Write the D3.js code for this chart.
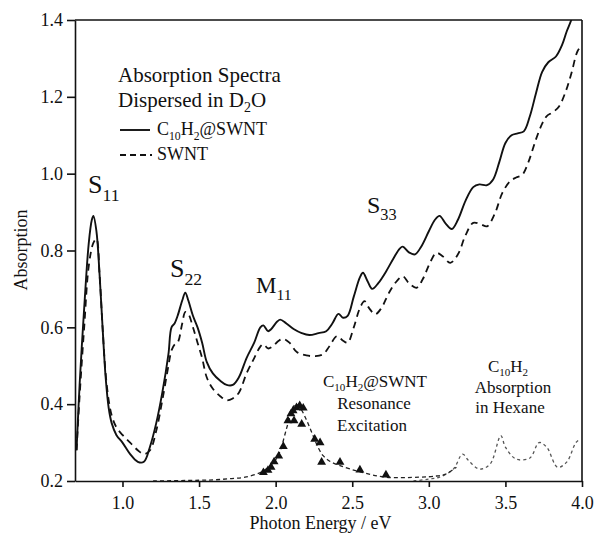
<!DOCTYPE html>
<html><head><meta charset="utf-8">
<script src="https://cdn.jsdelivr.net/npm/d3@7"></script>
<style>body{margin:0;background:#fff}svg{display:block}text{font-family:"Liberation Serif","Times New Roman",serif;fill:#111}</style>
</head><body><svg id="c" width="594" height="537"></svg>
<script>
// Absorption of C10H2@SWNT (solid) [energy eV, absorption]
const solidSeries = [[0.70,0.28],[0.72,0.45],[0.75,0.65],[0.78,0.82],[0.80,0.88],[0.81,0.89],[0.83,0.85],[0.85,0.74],[0.87,0.60],[0.89,0.47],[0.91,0.39],[0.93,0.35],[0.96,0.32],[1.00,0.30],[1.05,0.27],[1.10,0.25],[1.14,0.25],[1.18,0.29],[1.22,0.35],[1.26,0.43],[1.30,0.53],[1.32,0.60],[1.34,0.61],[1.36,0.63],[1.39,0.67],[1.41,0.69],[1.43,0.67],[1.46,0.63],[1.49,0.60],[1.52,0.56],[1.55,0.51],[1.59,0.48],[1.64,0.46],[1.68,0.45],[1.72,0.45],[1.76,0.47],[1.81,0.52],[1.86,0.56],[1.90,0.60],[1.92,0.605],[1.95,0.59],[1.97,0.595],[2.01,0.615],[2.03,0.62],[2.07,0.61],[2.12,0.595],[2.17,0.585],[2.22,0.58],[2.28,0.585],[2.33,0.59],[2.37,0.61],[2.41,0.635],[2.44,0.625],[2.47,0.63],[2.51,0.68],[2.55,0.73],[2.57,0.742],[2.60,0.72],[2.63,0.70],[2.67,0.715],[2.72,0.745],[2.77,0.78],[2.81,0.805],[2.83,0.81],[2.87,0.795],[2.91,0.79],[2.95,0.81],[3.00,0.85],[3.04,0.88],[3.07,0.89],[3.11,0.87],[3.15,0.856],[3.19,0.88],[3.24,0.93],[3.29,0.965],[3.33,0.972],[3.38,0.97],[3.42,0.985],[3.46,1.03],[3.50,1.08],[3.54,1.10],[3.58,1.105],[3.62,1.11],[3.66,1.15],[3.70,1.21],[3.74,1.265],[3.78,1.29],[3.83,1.305],[3.87,1.335],[3.90,1.37],[3.93,1.40],[3.96,1.44]];
// Absorption of SWNT (dashed)
const dashedSeries = [[0.70,0.28],[0.72,0.42],[0.75,0.60],[0.78,0.76],[0.81,0.82],[0.83,0.83],[0.85,0.74],[0.87,0.60],[0.89,0.48],[0.91,0.41],[0.93,0.37],[0.96,0.34],[1.00,0.32],[1.05,0.30],[1.10,0.28],[1.14,0.27],[1.18,0.28],[1.22,0.33],[1.26,0.41],[1.30,0.50],[1.32,0.54],[1.34,0.555],[1.36,0.56],[1.39,0.61],[1.41,0.64],[1.43,0.635],[1.46,0.60],[1.49,0.56],[1.52,0.52],[1.55,0.47],[1.59,0.44],[1.64,0.42],[1.68,0.41],[1.72,0.415],[1.76,0.43],[1.81,0.48],[1.86,0.52],[1.90,0.55],[1.92,0.556],[1.95,0.545],[1.98,0.55],[2.02,0.565],[2.05,0.57],[2.09,0.56],[2.14,0.535],[2.20,0.527],[2.26,0.525],[2.31,0.53],[2.35,0.55],[2.40,0.577],[2.44,0.565],[2.47,0.56],[2.51,0.60],[2.55,0.65],[2.58,0.668],[2.61,0.65],[2.65,0.634],[2.69,0.65],[2.74,0.69],[2.79,0.72],[2.83,0.733],[2.87,0.715],[2.92,0.703],[2.96,0.725],[3.01,0.77],[3.05,0.794],[3.09,0.785],[3.14,0.768],[3.19,0.79],[3.24,0.84],[3.29,0.872],[3.34,0.868],[3.38,0.863],[3.43,0.895],[3.48,0.95],[3.53,0.98],[3.57,0.99],[3.61,0.997],[3.65,1.03],[3.70,1.09],[3.74,1.13],[3.77,1.15],[3.81,1.16],[3.85,1.175],[3.89,1.21],[3.93,1.26],[3.97,1.318],[4.00,1.335]];
// Resonance excitation fit (dashed)
const fitSeries = [[1.20,0.200],[1.50,0.202],[1.60,0.203],[1.70,0.206],[1.80,0.21],[1.90,0.222],[1.95,0.235],[2.00,0.255],[2.03,0.279],[2.07,0.335],[2.10,0.375],[2.13,0.40],[2.16,0.39],[2.20,0.36],[2.24,0.322],[2.28,0.285],[2.31,0.266],[2.36,0.25],[2.42,0.24],[2.55,0.224],[2.72,0.21],[2.94,0.21],[3.05,0.213],[3.11,0.218],[3.18,0.236]];
// Resonance excitation data points (triangles)
const excitationPoints = [[1.92,0.222],[1.95,0.228],[1.97,0.236],[1.99,0.25],[2.02,0.265],[2.05,0.29],[2.08,0.357],[2.10,0.375],[2.114,0.383],[2.12,0.357],[2.136,0.391],[2.157,0.396],[2.17,0.348],[2.18,0.39],[2.255,0.309],[2.29,0.30],[2.30,0.249],[2.42,0.249],[2.55,0.229],[2.72,0.216]];
// C10H2 absorption in hexane (dotted)
const hexaneSeries = [[2.90,0.20],[3.00,0.205],[3.07,0.21],[3.16,0.231],[3.22,0.27],[3.26,0.253],[3.33,0.231],[3.40,0.244],[3.47,0.318],[3.50,0.288],[3.57,0.257],[3.66,0.26],[3.72,0.30],[3.77,0.288],[3.84,0.236],[3.90,0.249],[3.96,0.30],[3.99,0.31]];
const xTicks = [1.0,1.5,2.0,2.5,3.0,3.5,4.0];
const yTicks = [0.2,0.4,0.6,0.8,1.0,1.2,1.4];

const svg = d3.select("#c");
const L=75,R=582,T=20,B=481;
const x = d3.scaleLinear().domain([0.69,4.0]).range([L,R]);
const y = d3.scaleLinear().domain([0.2,1.4]).range([B,T]);

svg.append("defs").append("clipPath").attr("id","clip").append("rect").attr("x",L).attr("y",T).attr("width",R-L).attr("height",B-T);
const g = svg.append("g").attr("clip-path","url(#clip)");
const line = d3.line().x(d=>x(d[0])).y(d=>y(d[1])).curve(d3.curveCatmullRom.alpha(0.5));

g.append("path").datum(hexaneSeries).attr("d",line).attr("fill","none").attr("stroke","#555").attr("stroke-width",1.3).attr("stroke-dasharray","3,3");
g.append("path").datum(fitSeries).attr("d",line).attr("fill","none").attr("stroke","#222").attr("stroke-width",1.3).attr("stroke-dasharray","4,3");
g.append("path").datum(dashedSeries).attr("d",line).attr("fill","none").attr("stroke","#111").attr("stroke-width",1.8).attr("stroke-dasharray","7,5");
g.append("path").datum(solidSeries).attr("d",line).attr("fill","none").attr("stroke","#111").attr("stroke-width",1.9);
g.selectAll("path.tri").data(excitationPoints).enter().append("path").attr("class","tri")
  .attr("d",d3.symbol().type(d3.symbolTriangle).size(34))
  .attr("transform",d=>`translate(${x(d[0])},${y(d[1])})`).attr("fill","#111");

// axes
const ax = svg.append("g").attr("transform",`translate(0,${B})`).call(d3.axisBottom(x).tickValues(xTicks).tickFormat(d3.format(".1f")).tickSize(6).tickSizeOuter(0));
const ay = svg.append("g").attr("transform",`translate(${L},0)`).call(d3.axisLeft(y).tickValues(yTicks).tickFormat(d3.format(".1f")).tickSize(8).tickSizeOuter(0));
[ax,ay].forEach(a=>{a.selectAll("path,line").attr("stroke","#111").attr("stroke-width",1.6);a.selectAll("text").style("font-family","Liberation Serif").style("font-size","18px").attr("fill","#111");});
ax.selectAll("text").attr("dy","1.05em");
ay.selectAll("text").attr("dx","-1px");
svg.append("line").attr("x1",L).attr("x2",R).attr("y1",T).attr("y2",T).attr("stroke","#111").attr("stroke-width",1.6);
svg.append("line").attr("x1",R).attr("x2",R).attr("y1",T).attr("y2",B).attr("stroke","#111").attr("stroke-width",1.6);

svg.append("text").attr("x",(L+R)/2-8).attr("y",529).attr("text-anchor","middle").style("font-size","18px").text("Photon Energy / eV");
svg.append("text").attr("transform","translate(27,250) rotate(-90)").attr("text-anchor","middle").style("font-size","18px").text("Absorption");

function lab(xp,yp,main,subt,size){
  const t=svg.append("text").attr("x",xp).attr("y",yp).style("font-size",size+"px");
  t.append("tspan").text(main);
  t.append("tspan").text(subt).style("font-size",(size*0.68)+"px").attr("dy",size*0.3);
  return t;
}
svg.append("text").attr("x",118).attr("y",82).style("font-size","21px").text("Absorption Spectra");
const d2o = svg.append("text").attr("x",118).attr("y",107).style("font-size","21px");
d2o.append("tspan").text("Dispersed in D");
d2o.append("tspan").text("2").style("font-size","14px").attr("dy",5);
d2o.append("tspan").text("O").attr("dy",-5);

// legend
svg.append("line").attr("x1",120).attr("x2",150).attr("y1",130).attr("y2",130).attr("stroke","#111").attr("stroke-width",1.9);
svg.append("line").attr("x1",120).attr("x2",152).attr("y1",155).attr("y2",155).attr("stroke","#111").attr("stroke-width",1.8).attr("stroke-dasharray","6,4");
function formula(xp,yp,size,suffix,anchor){
  const t=svg.append("text").attr("x",xp).attr("y",yp).style("font-size",size+"px").attr("text-anchor",anchor||"start");
  t.append("tspan").text("C");
  t.append("tspan").text("10").style("font-size",(size*0.65)+"px").attr("dy",size*0.25);
  t.append("tspan").text("H").attr("dy",-size*0.25);
  t.append("tspan").text("2").style("font-size",(size*0.65)+"px").attr("dy",size*0.25);
  if(suffix) t.append("tspan").text(suffix).attr("dy",-size*0.25);
  return t;
}
formula(157,135,18,"@SWNT");
svg.append("text").attr("x",157).attr("y",160).style("font-size","18px").text("SWNT");

// peak labels
lab(88,193,"S","11",26);
lab(170,277,"S","22",26);
lab(256,293,"M","11",23);
lab(367,213,"S","33",24);

formula(375,387,17,"@SWNT","middle");
svg.append("text").attr("x",374).attr("y",409).attr("text-anchor","middle").style("font-size","17px").text("Resonance");
svg.append("text").attr("x",372).attr("y",431).attr("text-anchor","middle").style("font-size","17px").text("Excitation");
formula(508,372,17,"","middle");
svg.append("text").attr("x",513).attr("y",393).attr("text-anchor","middle").style("font-size","17px").text("Absorption");
svg.append("text").attr("x",510).attr("y",413).attr("text-anchor","middle").style("font-size","17px").text("in Hexane");
</script></body></html>
